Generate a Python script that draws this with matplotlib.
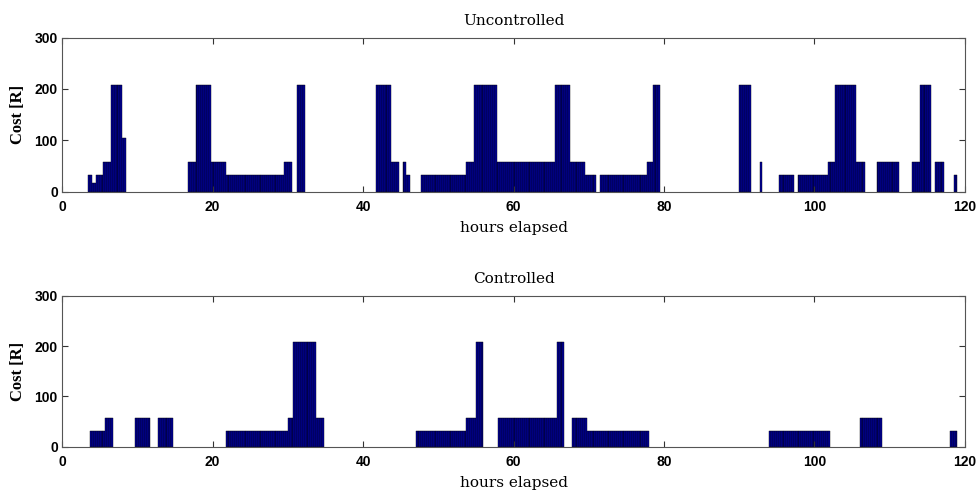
import numpy as np
import matplotlib
matplotlib.use("Agg")
import matplotlib.pyplot as plt

# runs of constant cost, 15 min slots (start hour, end hour, cost)
unc_start = [3.5, 4.0, 4.5, 5.5, 6.5, 8.0,
             16.75, 17.75, 19.75, 21.75, 29.5, 31.25,
             41.75, 43.75, 45.25, 45.75,
             47.75, 53.75, 54.75, 57.75, 65.5, 67.5, 69.5,
             71.5, 77.75, 78.5,
             90.0, 92.75, 95.25, 97.75, 101.75, 102.75, 105.5,
             108.25, 113.0, 114.0, 116.0, 118.5]
unc_end = [4.0, 4.5, 5.5, 6.5, 8.0, 8.5,
           17.75, 19.75, 21.75, 29.5, 30.5, 32.25,
           43.75, 44.75, 45.75, 46.25,
           53.75, 54.75, 57.75, 65.5, 67.5, 69.5, 71.0,
           77.75, 78.5, 79.5,
           91.5, 93.0, 97.25, 101.75, 102.75, 105.5, 106.75,
           111.25, 114.0, 115.5, 117.25, 119.0]
unc_cost = [32, 16, 32, 57, 207, 105,
            57, 207, 57, 32, 57, 207,
            207, 57, 57, 32,
            32, 57, 207, 57, 207, 57, 32,
            32, 57, 207,
            207, 57, 32, 32, 57, 207, 57,
            57, 57, 207, 57, 32]

ctl_start = [3.75, 5.75, 9.75, 12.75,
             21.75, 30.0, 30.75, 33.75,
             47.0, 53.75, 55.0,
             58.0, 65.75, 67.75, 69.75,
             94.0, 106.0, 118.0]
ctl_end = [5.75, 6.75, 11.75, 14.75,
           30.0, 30.75, 33.75, 34.75,
           53.75, 55.0, 56.0,
           65.75, 66.75, 69.75, 78.0,
           102.0, 109.0, 119.0]
ctl_cost = [32, 57, 57, 57,
            32, 57, 207, 57,
            32, 57, 207,
            57, 207, 57, 32,
            32, 57, 32]

x_ticks = [0, 20, 40, 60, 80, 100, 120]
y_ticks = [0, 100, 200, 300]

serif = ["DejaVu Serif"]
tickfont = ["Liberation Sans Narrow", "Liberation Sans", "DejaVu Sans"]

fig = plt.figure(figsize=(9.77, 4.91), dpi=100)
ax1 = fig.add_axes([0.0635, 0.6096, 0.9242, 0.314])
ax2 = fig.add_axes([0.0635, 0.0902, 0.9242, 0.3076])

panels = [(ax1, unc_start, unc_end, unc_cost, "Uncontrolled"),
          (ax2, ctl_start, ctl_end, ctl_cost, "Controlled")]

for ax, st, en, cost, title in panels:
    for s, e, c in zip(st, en, cost):
        x = np.arange(s, e - 1e-9, 0.25)
        ax.bar(x, [c] * len(x), width=0.25, align="edge",
               color="#0000a0", edgecolor="black", linewidth=0.3)
    ax.set_xlim(0, 120)
    ax.set_ylim(0, 300)
    ax.set_xticks(x_ticks)
    ax.set_yticks(y_ticks)
    ax.tick_params(direction="in", top=True, right=True, length=4,
                   width=0.8, colors="#333333")
    ax.tick_params(axis="x", pad=6)
    ax.tick_params(axis="y", pad=3)
    for lab in ax.get_xticklabels() + ax.get_yticklabels():
        lab.set_family(tickfont)
        lab.set_fontweight("bold")
        lab.set_fontsize(10)
        lab.set_color("black")
    for sp in ax.spines.values():
        sp.set_color("#555555")
        sp.set_linewidth(0.8)
    ax.set_title(title, family=serif, fontsize=11, pad=9)
    ax.set_xlabel("hours elapsed", family=serif, fontsize=11, labelpad=5)
    ax.set_ylabel("Cost [R]", family=["Liberation Serif"], fontsize=12,
                  fontweight="bold", labelpad=6)

plt.savefig("out.png", dpi=100)
